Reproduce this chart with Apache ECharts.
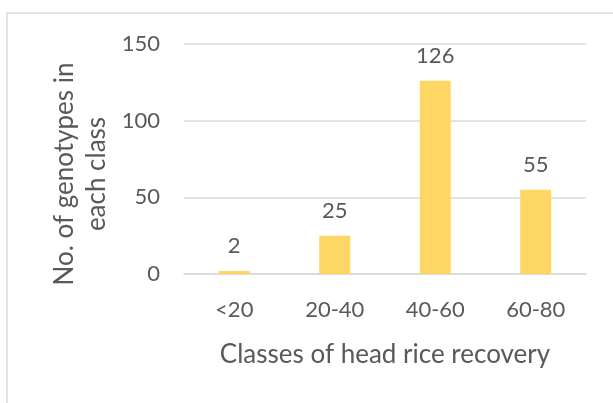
<!DOCTYPE html>
<html>
<head>
<meta charset="utf-8">
<script src="https://cdn.jsdelivr.net/npm/echarts@6/dist/echarts.min.js"></script>
<style>
  html, body { margin: 0; padding: 0; background: #fff; }
  #chart { width: 613px; height: 403px; }
</style>
</head>
<body>
<div id="chart"></div>
<script>
var classes = ['<20', '20-40', '40-60', '60-80'];
var counts = [2, 25, 126, 55];
var yTicks = [0, 50, 100, 150];

var textColor = '#595959';
var font = 'Lato';

var myChart = echarts.init(document.getElementById('chart'));
var option = {
    backgroundColor: '#fff',
    animation: false,
    graphic: [{
        type: 'rect',
        shape: { x: 7, y: 13, width: 620, height: 400 },
        style: { fill: 'none', stroke: '#d9d9d9', lineWidth: 1.5 }
    }, {
        type: 'text',
        x: 81, y: 174,
        rotation: Math.PI / 2,
        style: {
            text: 'No. of genotypes in\neach class',
            fill: textColor,
            font: '26px ' + font,
            align: 'center',
            verticalAlign: 'middle',
            lineHeight: 32
        }
    }],
    grid: { left: 184, right: 27, top: 44, bottom: 129 },
    xAxis: {
        type: 'category',
        data: classes,
        name: 'Classes of head rice recovery',
        nameLocation: 'middle',
        nameGap: 68,
        nameTextStyle: { color: textColor, fontSize: 26, fontFamily: font },
        axisLine: { lineStyle: { color: '#d9d9d9', width: 1.5 } },
        axisTick: { show: false },
        axisLabel: { color: textColor, fontSize: 22, fontFamily: font, margin: 25 }
    },
    yAxis: {
        type: 'value',
        min: yTicks[0],
        max: yTicks[yTicks.length - 1],
        interval: 50,
        axisLine: { show: false },
        axisTick: { show: false },
        splitLine: { lineStyle: { color: '#d9d9d9', width: 1.5 } },
        axisLabel: { color: textColor, fontSize: 22, fontFamily: font, margin: 24 }
    },
    series: [{
        type: 'bar',
        data: counts,
        barWidth: 31,
        itemStyle: { color: '#fdd663' },
        label: {
            show: true,
            position: 'top',
            distance: 14,
            color: textColor,
            fontSize: 22,
            fontFamily: font
        }
    }]
};
myChart.setOption(option);
</script>
</body>
</html>
